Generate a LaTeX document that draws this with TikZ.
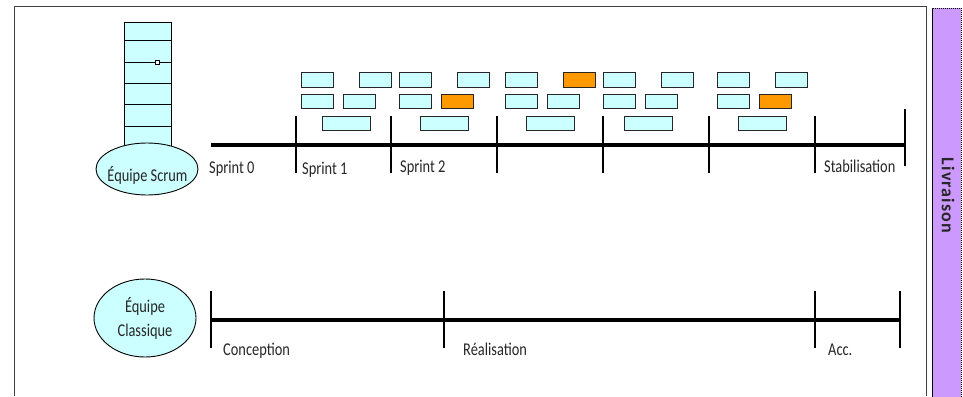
\documentclass[tikz,border=0pt]{standalone}
\usepackage{fontspec}
\usetikzlibrary{shapes.geometric}
\setmainfont{Carlito}
\newfontfamily\lblfont{Carlito}[FakeStretch=0.8]
\newfontfamily\barfont{Carlito}[LetterSpace=6]
\definecolor{taskfill}{HTML}{CCFFFF}
\definecolor{taskhot}{HTML}{FF9900}
\definecolor{lavender}{HTML}{CC99FF}
\definecolor{framegray}{HTML}{404040}
\begin{document}
\begin{tikzpicture}[x=1pt,y=-1pt,
  task/.style={draw=black!85,line width=1pt,fill=taskfill,minimum height=14.5pt,inner sep=0pt,outer sep=0pt},
  small/.style={task,minimum width=32pt},
  large/.style={task,minimum width=48pt},
  hot/.style={fill=taskhot},
  axis/.style={line width=4pt},
  tick/.style={line width=1.1pt},
  lbl/.style={font=\lblfont\fontsize{18}{20}\selectfont,inner sep=0pt,text=black!85},
  team/.style={ellipse,draw=black,line width=0.9pt,fill=taskfill,inner sep=0pt}
]
\useasboundingbox (0,0) rectangle (963,396);

% outer frame, open at the bottom
\coordinate (fTL) at (14,7);
\coordinate (fTR) at (926,7);
\coordinate (fBL) at (14,396);
\coordinate (fBR) at (926,396);
\draw[framegray,line width=1pt] (fBL) -- (fTL) -- (fTR) -- (fBR);

% delivery band
\node[draw=black,dash pattern=on 1.2pt off 0.8pt,line width=0.9pt,fill=lavender,
      minimum width=29pt,minimum height=400pt,inner sep=0pt,anchor=north west] (band) at (932,8) {};
\node[rotate=-90,inner sep=0pt,font=\barfont\bfseries\fontsize{18}{20}\selectfont,text=black!85] (livraison) at (948,195.5) {Livraison};

% product backlog column
\node[draw=black,line width=0.9pt,fill=taskfill,minimum width=47pt,minimum height=135pt,
      inner sep=0pt,anchor=north west] (backlog) at (124,22) {};
\foreach \yy [count=\k] in {40,62,83,104,126}
  \draw[line width=0.9pt] (124,\yy) coordinate (bl\k) -- (171,\yy) coordinate (br\k);
\node[draw=black,fill=white,line width=0.8pt,minimum size=4pt,inner sep=0pt] (marker) at (157,62) {};

% teams
\node[team,minimum width=102pt,minimum height=52pt] (scrum) at (147,169) {};
\node[lbl,anchor=base] (scrumtxt) at (147.5,181) {Équipe Scrum};
\node[team,minimum width=102pt,minimum height=78pt] (classic) at (145,318) {};
\node[lbl,anchor=base] (classictxt1) at (145,312.7) {Équipe};
\node[lbl,anchor=base] (classictxt2) at (145,336) {Classique};

% scrum timeline
\coordinate (sA) at (211,144.5);
\coordinate (sB) at (905,144.5);
\draw[axis] (sA) -- (sB);
\foreach \xx [count=\k] in {296,391,497,603,709,815}
  \draw[tick] (\xx,116) coordinate (st\k) -- (\xx,173) coordinate (sb\k);
\draw[tick] (905,109) coordinate (st7) -- (905,166) coordinate (sb7);

\node[lbl,anchor=base west] (s0) at (209,173) {Sprint 0};
\node[lbl,anchor=base west] (s1) at (302,174) {Sprint 1};
\node[lbl,anchor=base west] (s2) at (400,172) {Sprint 2};
\node[lbl,anchor=base west] (stab) at (824,172.5) {Stabilisation};

% sprint tasks, row 1
\node[small] (r1a) at (317,80) {};
\node[small] (r1b) at (375,80) {};
\node[small] (r1c) at (415,80) {};
\node[small] (r1d) at (473,80) {};
\node[small] (r1e) at (521,80) {};
\node[small,hot] (r1f) at (579.5,80) {};
\node[small] (r1g) at (619,80) {};
\node[small] (r1h) at (677.5,80) {};
\node[small] (r1i) at (733,80) {};
\node[small] (r1j) at (791.5,80) {};
% row 2
\node[small] (r2a) at (317,101.5) {};
\node[small] (r2b) at (359.5,101.5) {};
\node[small] (r2c) at (415,101.5) {};
\node[small,hot] (r2d) at (457.5,101.5) {};
\node[small] (r2e) at (521,101.5) {};
\node[small] (r2f) at (563,101.5) {};
\node[small] (r2g) at (619,101.5) {};
\node[small] (r2h) at (661.5,101.5) {};
\node[small] (r2i) at (733,101.5) {};
\node[small,hot] (r2j) at (775,101.5) {};
% row 3
\node[large] (r3a) at (346.5,123.5) {};
\node[large] (r3b) at (444,123.5) {};
\node[large] (r3c) at (550,123.5) {};
\node[large] (r3d) at (648,123.5) {};
\node[large] (r3e) at (762,123.5) {};

% classic timeline
\coordinate (cA) at (211,320);
\coordinate (cB) at (900,320);
\draw[axis] (cA) -- (cB);
\foreach \xx [count=\k] in {211,444,815,900}
  \draw[tick] (\xx,291) coordinate (ct\k) -- (\xx,348) coordinate (cb\k);

\node[lbl,anchor=base west] (conc) at (223,355) {Conception};
\node[lbl,anchor=base west] (real) at (463,355) {Réalisation};
\node[lbl,anchor=base west] (acc) at (828,355) {Acc.};
\end{tikzpicture}
\end{document}
